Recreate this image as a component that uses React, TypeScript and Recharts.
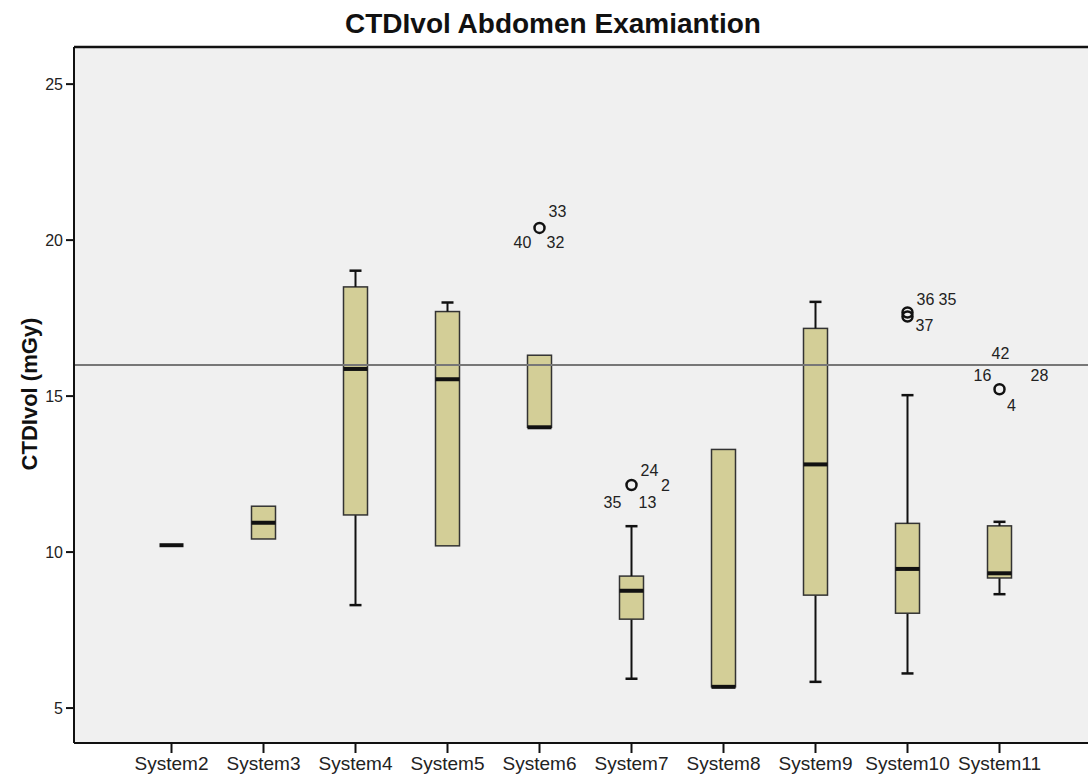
import React from 'react';
import {
  ComposedChart,
  Bar,
  Scatter,
  XAxis,
  YAxis,
  CartesianGrid,
  ReferenceLine,
} from 'recharts';

// values (mGy)
const systems = [
  'System2', 'System3', 'System4', 'System5', 'System6',
  'System7', 'System8', 'System9', 'System10', 'System11',
];
const whiskerLow = [10.22, 10.42, 8.3, 10.2, 14.0, 5.94, 5.68, 5.84, 6.11, 8.65];
const quartile1 = [10.22, 10.42, 11.19, 10.2, 14.0, 7.85, 5.68, 8.62, 8.04, 9.17];
const medians = [10.22, 10.94, 15.87, 15.54, 14.0, 8.76, 5.68, 12.81, 9.46, 9.32];
const quartile3 = [10.22, 11.47, 18.5, 17.71, 16.31, 9.23, 13.29, 17.17, 10.92, 10.84];
const whiskerHigh = [10.22, 11.47, 19.02, 18.0, 16.31, 10.83, 13.29, 18.02, 15.03, 10.97];
const outlierValues: number[][] = [[], [], [], [], [20.39], [12.15], [], [], [17.68, 17.55], [15.22]];
const outlierCases: string[][] = [
  [], [], [], [], ['33', '40', '32'], ['24', '2', '35', '13'], [], [],
  ['36', '35', '37'], ['42', '16', '28', '4'],
];
const referenceValue = 16.0;
const yTicks = [5, 10, 15, 20, 25];
const yMin = 3.88;
const yMax = 26.19;

const rows = systems.map((name, i) => ({
  name,
  base: whiskerLow[i],
  lowerWhisker: quartile1[i] - whiskerLow[i],
  box: quartile3[i] - quartile1[i],
  upperWhisker: whiskerHigh[i] - quartile3[i],
  median: medians[i],
  low: whiskerLow[i],
  high: whiskerHigh[i],
  q1: quartile1[i],
  q3: quartile3[i],
  out1: outlierValues[i][0],
  out2: outlierValues[i][1],
  cases: outlierCases[i],
}));

// where the case numbers sit around the circle, per group
const caseOffsets: Record<string, [number, number][]> = {
  System6: [[18, -16], [-17, 15], [16, 15]],
  System7: [[18, -15], [34, 0], [-19, 17], [16, 17]],
  System10: [[18, -13], [40, -13], [17, 13]],
  System11: [[1, -36], [-17, -14], [40, -14], [12, 16]],
};

const INK = '#111';
const BOX_FILL = '#d3ce97';
const BOX_W = 24;

function Empty() {
  return null;
}

function WhiskerShape(props: any) {
  const { x, y, width, height } = props;
  if (!height || Math.abs(height) < 0.5) return null;
  const cx = x + width / 2;
  const top = Math.min(y, y + height);
  return (
    <line x1={cx} x2={cx} y1={top} y2={top + Math.abs(height)} stroke={INK} strokeWidth={2} />
  );
}

function BoxShape(props: any) {
  const { x, y, width, height } = props;
  const top = Math.min(y, y + (height || 0));
  return (
    <rect
      x={x}
      y={top}
      width={width}
      height={Math.abs(height || 0)}
      fill={BOX_FILL}
      stroke="#333"
      strokeWidth={1.5}
    />
  );
}

function MedianShape(props: any) {
  const { cx, cy } = props;
  if (!Number.isFinite(cy)) return null;
  return (
    <line x1={cx - BOX_W / 2} x2={cx + BOX_W / 2} y1={cy} y2={cy} stroke={INK} strokeWidth={4} />
  );
}

function HighCap(props: any) {
  const { cx, cy, payload } = props;
  if (!Number.isFinite(cy) || payload.high <= payload.q3) return null;
  return <line x1={cx - 6} x2={cx + 6} y1={cy} y2={cy} stroke={INK} strokeWidth={2.5} />;
}

function LowCap(props: any) {
  const { cx, cy, payload } = props;
  if (!Number.isFinite(cy) || payload.low >= payload.q1) return null;
  return <line x1={cx - 6} x2={cx + 6} y1={cy} y2={cy} stroke={INK} strokeWidth={2.5} />;
}

function OutlierShape(props: any) {
  const { cx, cy, payload, withCases } = props;
  if (!Number.isFinite(cy) || !Number.isFinite(cx)) return null;
  const offsets = caseOffsets[payload.name] || [];
  return (
    <g>
      <circle cx={cx} cy={cy} r={5} fill="none" stroke={INK} strokeWidth={2.5} />
      {withCases &&
        payload.cases.map((c: string, i: number) => {
          const [dx, dy] = offsets[i] || [0, 0];
          return (
            <text
              key={c + i}
              x={cx + dx}
              y={cy + dy}
              textAnchor="middle"
              dominantBaseline="central"
              fontSize={16}
              fill="#222"
            >
              {c}
            </text>
          );
        })}
    </g>
  );
}

export default function App() {
  return (
    <div
      style={{
        position: 'absolute',
        left: 0,
        top: 0,
        width: 1088,
        height: 776,
        background: '#fff',
        fontFamily: '"Liberation Sans", Arial, sans-serif',
      }}
    >
      <div
        style={{
          position: 'absolute',
          left: 0,
          width: 1106,
          top: 8,
          textAlign: 'center',
          fontSize: 28,
          fontWeight: 'bold',
          color: '#111',
        }}
      >
        CTDIvol Abdomen Examiantion
      </div>
      <div
        style={{
          position: 'absolute',
          left: 30,
          top: 394,
          transform: 'translate(-50%, -50%) rotate(-90deg)',
          whiteSpace: 'nowrap',
          fontSize: 22,
          fontWeight: 'bold',
          color: '#111',
        }}
      >
        CTDIvol (mGy)
      </div>
      <ComposedChart
        width={1088}
        height={776}
        data={rows}
        margin={{ top: 47, right: 0, left: 14, bottom: 0 }}
        style={{ position: 'absolute', left: 0, top: 0 }}
      >
        <CartesianGrid horizontal={false} vertical={false} fill="#f0f0f0" />
        <XAxis
          dataKey="name"
          type="category"
          height={33}
          padding={{ left: 51.5, right: 42.5 }}
          tick={{ fontSize: 19, fill: '#222' }}
          tickSize={10}
          tickMargin={4}
          tickLine={{ stroke: INK, strokeWidth: 2 }}
          axisLine={{ stroke: INK, strokeWidth: 2 }}
          interval={0}
        />
        <YAxis
          type="number"
          domain={[yMin, yMax]}
          ticks={yTicks}
          allowDataOverflow
          width={60}
          tick={{ fontSize: 16, fill: '#222' }}
          tickSize={8}
          tickMargin={3}
          tickLine={{ stroke: INK, strokeWidth: 2 }}
          axisLine={{ stroke: INK, strokeWidth: 2 }}
        />
        <Bar dataKey="base" stackId="b" barSize={BOX_W} shape={<Empty />} isAnimationActive={false} />
        <Bar dataKey="lowerWhisker" stackId="b" barSize={BOX_W} shape={<WhiskerShape />} isAnimationActive={false} />
        <Bar dataKey="box" stackId="b" barSize={BOX_W} shape={<BoxShape />} isAnimationActive={false} />
        <Bar dataKey="upperWhisker" stackId="b" barSize={BOX_W} shape={<WhiskerShape />} isAnimationActive={false} />
        <ReferenceLine y={referenceValue} stroke="#777" strokeWidth={2} />
        <ReferenceLine y={yMax} stroke={INK} strokeWidth={2.5} />
        <Scatter dataKey="median" shape={<MedianShape />} isAnimationActive={false} />
        <Scatter dataKey="high" shape={<HighCap />} isAnimationActive={false} />
        <Scatter dataKey="low" shape={<LowCap />} isAnimationActive={false} />
        <Scatter dataKey="out1" shape={<OutlierShape withCases />} isAnimationActive={false} />
        <Scatter dataKey="out2" shape={<OutlierShape />} isAnimationActive={false} />
      </ComposedChart>
    </div>
  );
}
